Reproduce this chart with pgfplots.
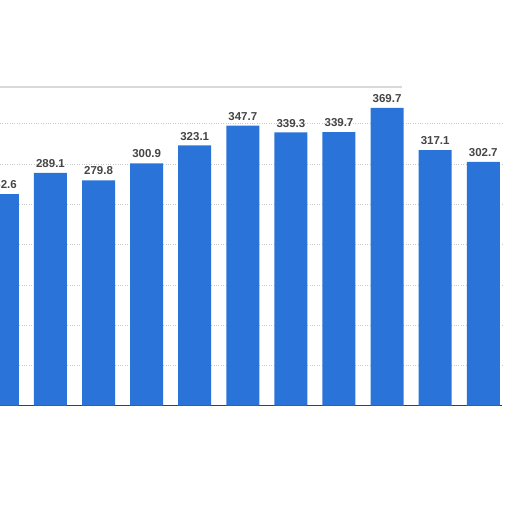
\documentclass[border=0pt]{standalone}
\usepackage{pgfplots}
\pgfplotsset{compat=1.18}
\usepackage{fontspec}
\setmainfont{Liberation Sans}
\definecolor{barblue}{HTML}{2A74D9}
\definecolor{labelgray}{HTML}{454545}
\definecolor{gridgray}{HTML}{C8C8C8}
\begin{document}
\begin{tikzpicture}[x=1pt,y=1pt]
\useasboundingbox (0,0) rectangle (512,512);
\begin{axis}[
  at={(0,132)}, anchor=south west,
  scale only axis, width=502pt, height=319pt,
  xmin=-0.05, xmax=10.39,
  ymin=0, ymax=396,
  ybar, bar width=33pt,
  axis x line*=bottom, axis y line*=left,
  x axis line style={draw=black!75, line width=1pt},
  y axis line style={draw=none},
  xtick=\empty,
  ytick={50,100,...,350}, yticklabels={},
  major tick length=0pt,
  ymajorgrids, grid style={gridgray, dotted, line width=0.6pt},
  nodes near coords,
  every node near coord/.append style={
    font=\bfseries\fontsize{11.5}{12}\selectfont, text=labelgray,
    inner sep=1pt, yshift=4pt,
    /pgf/number format/fixed, /pgf/number format/fixed zerofill,
    /pgf/number format/precision=1,
    /pgf/number format/assume math mode=true},
]
% faint shadow along the top edge of the plot area
\draw[black!15, line width=2pt] (axis description cs:0,1) -- (axis description cs:0.8,1);
\addplot[draw=none, fill=barblue] coordinates {
  (0,262.6) (1,289.1) (2,279.8) (3,300.9) (4,323.1) (5,347.7)
  (6,339.3) (7,339.7) (8,369.7) (9,317.1) (10,302.7)
};
\end{axis}
\end{tikzpicture}
\end{document}
